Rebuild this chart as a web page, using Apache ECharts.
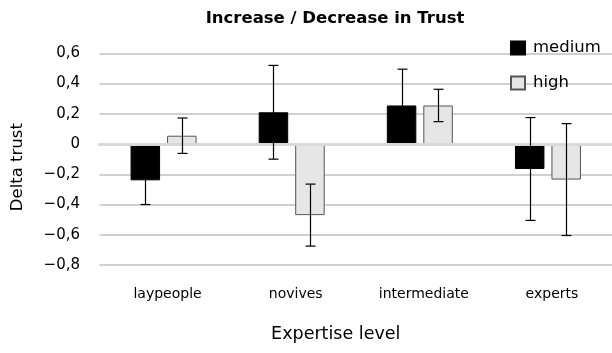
<!DOCTYPE html>
<html>
<head>
<meta charset="utf-8">
<script src="https://cdn.jsdelivr.net/npm/echarts@6/dist/echarts.min.js"></script>
<style>
  html, body { margin: 0; padding: 0; background: #fff; }
  #chart { width: 612px; height: 353px; }
</style>
</head>
<body>
<div id="chart"></div>
<script>
// Mean change in trust per expertise level, with error bar half-widths
const categories = ['laypeople', 'novives', 'intermediate', 'experts'];
const seriesNames = ['medium', 'high'];
const mediumMean = [-0.24, 0.21, 0.255, -0.165];
const mediumErr  = [0.16, 0.31, 0.24, 0.34];
const highMean   = [0.055, -0.47, 0.255, -0.235];
const highErr    = [0.117, 0.205, 0.107, 0.37];
const yMin = -0.8, yMax = 0.6, yStep = 0.2;

const FONT = 'DejaVu Sans';
const BAR_W = 29.5;      // bar width in px
const BAR_SPACE = 7;     // space between the two bars of a group
const CAP = 5;           // half-width of error bar caps

function fmt(v) {
  const r = Math.round(v * 10) / 10;
  if (r === 0) return '0';
  const s = Math.abs(r).toFixed(1).replace('.', ',');
  return (r < 0 ? '\u2212' : '') + s;
}

function errorSeries(name, means, errs, offset) {
  return {
    type: 'custom',
    name: name + ' error',
    z: 5,
    silent: true,
    data: means.map((m, i) => [i, m - errs[i], m + errs[i]]),
    renderItem: function (params, api) {
      const cx = Math.round(api.coord([api.value(0), 0])[0] + offset) + 0.5;
      const lo = api.coord([api.value(0), api.value(1)])[1];
      const hi = api.coord([api.value(0), api.value(2)])[1];
      const style = { stroke: '#000000', lineWidth: 1.2 };
      return {
        type: 'group',
        children: [
          { type: 'line', shape: { x1: cx, y1: lo, x2: cx, y2: hi }, style: style },
          { type: 'line', shape: { x1: cx - CAP, y1: lo, x2: cx + CAP, y2: lo }, style: style },
          { type: 'line', shape: { x1: cx - CAP, y1: hi, x2: cx + CAP, y2: hi }, style: style }
        ]
      };
    }
  };
}

const chart = echarts.init(document.getElementById('chart'), null, { renderer: 'canvas' });
const offset = (BAR_W + BAR_SPACE) / 2;

chart.setOption({
  animation: false,
  textStyle: { fontFamily: FONT, color: '#000' },
  title: {
    text: 'Increase / Decrease in Trust',
    left: 330,
    top: 5,
    textAlign: 'center',
    textStyle: { fontFamily: FONT, fontSize: 16.5, fontWeight: 'bold', color: '#000' }
  },
  legend: {
    data: seriesNames,
    orient: 'vertical',
    icon: 'rect',
    left: 505,
    top: 33,
    itemWidth: 14,
    itemHeight: 13,
    itemGap: 15,
    textStyle: { fontFamily: FONT, fontSize: 16.5, color: '#000', lineHeight: 20, padding: [0, 0, 0, 3] }
  },
  grid: { left: 99.5, top: 53.3, width: 522.4, height: 211.7, containLabel: false },
  xAxis: {
    type: 'category',
    data: categories,
    z: 3,
    name: 'Expertise level',
    nameLocation: 'middle',
    nameGap: 60,
    nameTextStyle: { fontFamily: FONT, fontSize: 17.5, color: '#000', padding: [0, 40, 0, 0] },
    axisLine: { onZero: true, lineStyle: { color: '#d9d9d9', width: 3 } },
    axisTick: { show: false },
    axisLabel: { interval: 0, margin: 22, fontFamily: FONT, fontSize: 14, color: '#000', padding: [0, 0, 0, 8] },
    splitLine: { show: false }
  },
  yAxis: {
    type: 'value',
    min: yMin,
    max: yMax,
    interval: yStep,
    name: 'Delta trust',
    nameLocation: 'middle',
    nameRotate: 90,
    nameGap: 73,
    nameTextStyle: { fontFamily: FONT, fontSize: 16.5, color: '#000', padding: [0, 16, 0, 0] },
    axisLine: { show: false },
    axisTick: { show: false },
    axisLabel: { margin: 19.5, fontFamily: FONT, fontSize: 15, color: '#000', formatter: fmt },
    splitLine: { lineStyle: { color: '#c0c0c0', width: 1.5 } }
  },
  series: [
    {
      name: 'medium',
      type: 'bar',
      data: mediumMean,
      barWidth: BAR_W,
      barGap: (BAR_SPACE / BAR_W * 100) + '%',
      itemStyle: { color: '#000000', borderColor: '#000000', borderWidth: 1 }
    },
    {
      name: 'high',
      type: 'bar',
      data: highMean,
      barWidth: BAR_W,
      barGap: (BAR_SPACE / BAR_W * 100) + '%',
      itemStyle: { color: '#e6e6e6', borderColor: '#555555', borderWidth: 1 }
    },
    errorSeries('medium', mediumMean, mediumErr, -offset),
    errorSeries('high', highMean, highErr, offset)
  ]
});
</script>
</body>
</html>
